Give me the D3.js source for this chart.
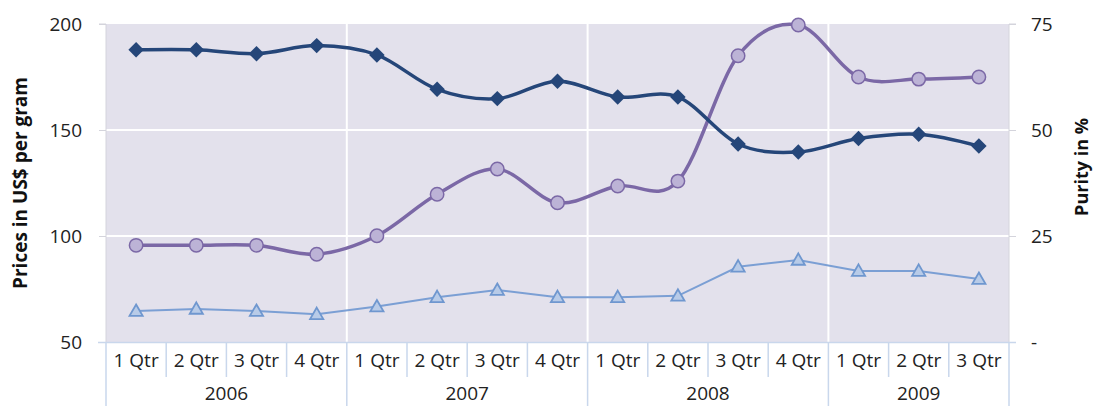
<!DOCTYPE html>
<html><head><meta charset="utf-8">
<script src="https://cdn.jsdelivr.net/npm/d3@7"></script>
<style>
html,body{margin:0;padding:0;background:#fff;}
svg{display:block;font-family:"Open Sans",sans-serif;}
</style></head>
<body><svg id="c" width="1093" height="406"></svg>
<script>
const years = ["2006","2007","2008","2009"];
const quarters = ["1 Qtr","2 Qtr","3 Qtr","4 Qtr"];
const categories = ["2006-1","2006-2","2006-3","2006-4","2007-1","2007-2","2007-3","2007-4","2008-1","2008-2","2008-3","2008-4","2009-1","2009-2","2009-3"];
const quarterLabels = ["1 Qtr","2 Qtr","3 Qtr","4 Qtr","1 Qtr","2 Qtr","3 Qtr","4 Qtr","1 Qtr","2 Qtr","3 Qtr","4 Qtr","1 Qtr","2 Qtr","3 Qtr"];
const yearSpans = [{year:"2006",from:0,to:3},{year:"2007",from:4,to:7},{year:"2008",from:8,to:11},{year:"2009",from:12,to:14}];
// purity in % (right axis)
const purity = [68.9,68.9,68.0,69.9,67.7,59.6,57.4,61.5,57.8,57.8,46.7,44.8,48.0,49.0,46.2];
// purity-adjusted price, US$ per gram (left axis)
const pricePure = [95.6,95.6,95.6,91.4,100.1,119.7,131.6,115.7,123.6,125.9,185.0,199.5,175.0,174.0,175.0];
// price, US$ per gram (left axis)
const price = [64.6,65.6,64.6,63.1,66.7,71.1,74.5,71.1,71.1,71.8,85.5,88.7,83.5,83.5,79.7];
const leftTicks = [50,100,150,200];
const rightTicks = [0,25,50,75];
const rightTickLabels = ["-","25","50","75"];

const svg = d3.select("#c");
const L = 106, R = 1009, T = 24, B = 342;
const x = d3.scaleBand().domain(categories).range([L,R]).padding(0);
const yL = d3.scaleLinear().domain([50,200]).range([B,T]);
const yR = d3.scaleLinear().domain([0,75]).range([B,T]);
const cx = i => x(categories[i]) + x.bandwidth()/2;
const axisCol = "#c9d7ec";

svg.append("rect").attr("x",L).attr("y",T).attr("width",R-L).attr("height",B-T).attr("fill","#e3e1ec");

// horizontal gridlines
svg.append("g").selectAll("line").data(leftTicks.filter(t=>t>50 && t<200)).join("line")
  .attr("x1",L).attr("x2",R).attr("y1",d=>yL(d)).attr("y2",d=>yL(d))
  .attr("stroke","#fff").attr("stroke-width",2);
// vertical gridlines at year boundaries
svg.append("g").selectAll("line").data(yearSpans.slice(1)).join("line")
  .attr("x1",d=>x(categories[d.from])).attr("x2",d=>x(categories[d.from]))
  .attr("y1",T).attr("y2",B).attr("stroke","#fff").attr("stroke-width",2);

// left axis
const gl = svg.append("g").attr("transform",`translate(${L},0)`)
  .call(d3.axisLeft(yL).tickValues(leftTicks).tickSize(7).tickPadding(17));
gl.select(".domain").attr("stroke","#d4d4dc").attr("d",`M-7,${T}H0V${B}`);
gl.selectAll(".tick line").attr("stroke","#d4d4dc");
gl.selectAll(".tick text").attr("font-size",19).attr("fill","#222").attr("font-family","Open Sans");

// right axis
const gr = svg.append("g").attr("transform",`translate(${R},0)`)
  .call(d3.axisRight(yR).tickValues(rightTicks).tickFormat((d,i)=>rightTickLabels[i]).tickSize(7).tickPadding(15));
gr.select(".domain").attr("stroke","#d4d4dc").attr("d",`M7,${T}H0V${B}`);
gr.selectAll(".tick line").attr("stroke","#d4d4dc");
gr.selectAll(".tick text").attr("font-size",19).attr("fill","#222").attr("font-family","Open Sans");

// category axis
svg.append("line").attr("x1",L-8).attr("x2",R+7).attr("y1",B+0.5).attr("y2",B+0.5).attr("stroke",axisCol).attr("stroke-width",1.5);
const bounds = d3.range(categories.length+1);
const yearStarts = new Set(yearSpans.map(d=>d.from).concat([categories.length]));
svg.append("g").selectAll("line").data(bounds).join("line")
  .attr("x1",i=> i<categories.length ? x(categories[i]) : R)
  .attr("x2",i=> i<categories.length ? x(categories[i]) : R)
  .attr("y1",B).attr("y2",i=> yearStarts.has(i) ? 406 : 377)
  .attr("stroke",axisCol).attr("stroke-width",1.5);
svg.append("g").selectAll("text").data(quarterLabels).join("text")
  .attr("x",(d,i)=>cx(i)).attr("y",367).attr("text-anchor","middle")
  .attr("font-size",19).attr("fill","#222").text(d=>d);
svg.append("g").selectAll("text").data(yearSpans).join("text")
  .attr("x",d=>(x(categories[d.from]) + x(categories[d.to]) + x.bandwidth())/2).attr("y",400)
  .attr("text-anchor","middle").attr("font-size",19).attr("fill","#222").text(d=>d.year);

// axis titles
svg.append("text").attr("transform","translate(20,183) rotate(-90)").attr("text-anchor","middle")
  .attr("dominant-baseline","central").attr("font-size",19).attr("font-weight","bold").attr("fill","#111")
  .text("Prices in US$ per gram");
svg.append("text").attr("transform","translate(1081,167) rotate(-90)").attr("text-anchor","middle")
  .attr("dominant-baseline","central").attr("font-size",18).attr("font-weight","bold").attr("fill","#111")
  .text("Purity in %");

// series: price (triangles, linear)
const linePrice = d3.line().x((d,i)=>cx(i)).y(d=>yL(d));
svg.append("path").datum(price).attr("d",linePrice).attr("fill","none").attr("stroke","#7b9fd4").attr("stroke-width",2);
const tri = d3.symbol().type(d3.symbolTriangle).size(75);
svg.append("g").selectAll("path").data(price).join("path")
  .attr("d",tri).attr("transform",(d,i)=>`translate(${cx(i)},${yL(d)+1})`)
  .attr("fill","#b8cbe8").attr("stroke","#6f97cf").attr("stroke-width",1.8);

// purity-adjusted price (circles, smooth)
const smooth = d3.curveCatmullRom.alpha(0);
const linePure = d3.line().x((d,i)=>cx(i)).y(d=>yL(d)).curve(smooth);
svg.append("path").datum(pricePure).attr("d",linePure).attr("fill","none").attr("stroke","#7b68a6").attr("stroke-width",3.5);
svg.append("g").selectAll("circle").data(pricePure).join("circle")
  .attr("cx",(d,i)=>cx(i)).attr("cy",d=>yL(d)).attr("r",6.7)
  .attr("fill","#bcb3d6").attr("stroke","#7b68a6").attr("stroke-width",1.5);

// purity (diamonds, smooth, right axis)
const linePur = d3.line().x((d,i)=>cx(i)).y(d=>yR(d)).curve(smooth);
svg.append("path").datum(purity).attr("d",linePur).attr("fill","none").attr("stroke","#254679").attr("stroke-width",3.5);
const dia = d3.symbol().type(d3.symbolSquare).size(120);
svg.append("g").selectAll("path").data(purity).join("path")
  .attr("d",dia).attr("transform",(d,i)=>`translate(${cx(i)},${yR(d)}) rotate(45)`)
  .attr("fill","#254679");
</script></body></html>
